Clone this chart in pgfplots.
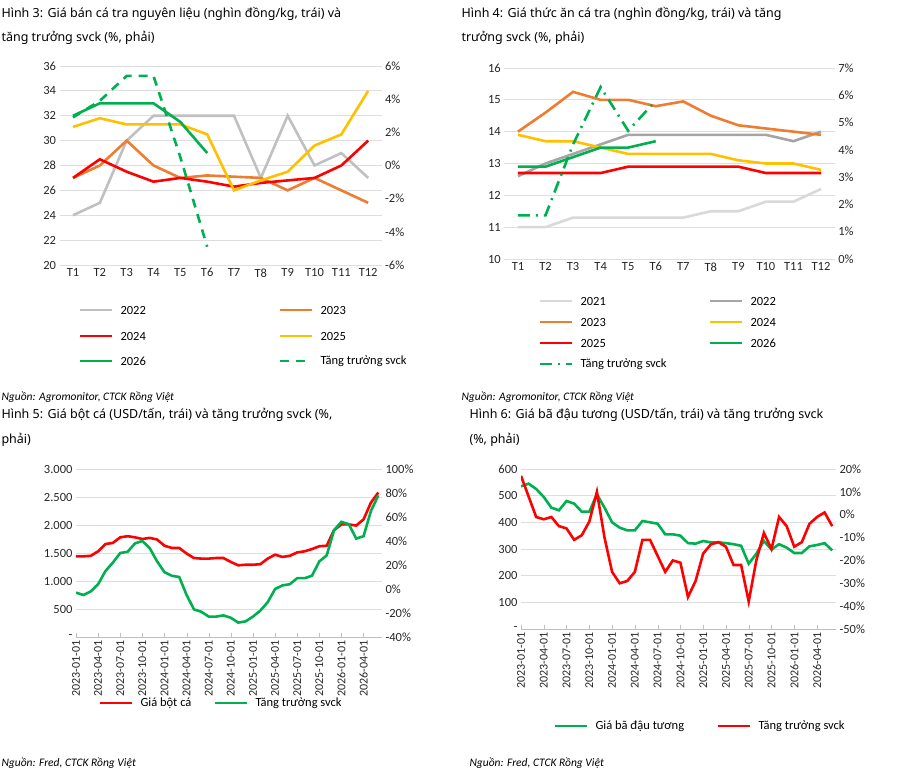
\documentclass[border=0pt]{standalone}
\usepackage{pgfplots}
\pgfplotsset{compat=1.18}
\usepackage{fontspec}
\setmainfont{Carlito}
\newfontfamily\ttlfont{Noto Sans}
\definecolor{cg}{HTML}{C0C0C0}
\definecolor{cg1}{HTML}{D9D9D9}
\definecolor{cg2}{HTML}{A5A5A5}
\definecolor{co}{HTML}{ED7D31}
\definecolor{cr}{HTML}{FF0000}
\definecolor{cy}{HTML}{FFC000}
\definecolor{cgr}{HTML}{00B050}
\pgfplotsset{
  base/.style={scale only axis, anchor=south west,
    /pgf/number format/assume math mode=true,
    ticklabel style={font=\fontsize{12.5}{13}\selectfont, text=black!85},
    major tick length=0pt, axis line style={draw=none},
    every axis plot/.append style={line width=2.6pt, no markers}},
  lefta/.style={base, ymajorgrids, grid style={draw=black!13, line width=0.8pt}},
  righta/.style={base, axis y line*=right, axis x line=none, ymajorgrids=false},
  monthx/.style={xmin=0, xmax=41.5, xtick={0,3,...,39},
    xticklabels={2023-01-01,2023-04-01,2023-07-01,2023-10-01,2024-01-01,2024-04-01,2024-07-01,2024-10-01,2025-01-01,2025-04-01,2025-07-01,2025-10-01,2026-01-01,2026-04-01},
    xticklabel style={rotate=90, anchor=east, font=\fontsize{12}{12}\selectfont},
    axis x line*=bottom, x axis line style={draw=black!25, line width=0.8pt},
    xtick style={draw=black!25}, major tick length=4pt}
}
\newcommand{\leg}[4]{\draw[#1,line width=2.6pt] (#2pt,#3pt) -- ++(32pt,0); \node[anchor=west,font=\fontsize{12.5}{13}\selectfont] at (#2pt+37pt,#3pt) {#4};}
\begin{document}
\begin{tikzpicture}
\path[use as bounding box] (0,0) rectangle (900pt,773pt);
\tikzset{ttl/.style={anchor=west, font=\ttlfont\bfseries\fontsize{12.5}{14}\selectfont},
 src/.style={anchor=west, font=\itshape\fontsize{11.5}{12}\selectfont}}
% ---------- Panel 1
\node[ttl] at (-2pt,759pt) {Hình 3: Giá bán cá tra nguyên liệu (nghìn đồng/kg, trái) và};
\node[ttl] at (-2pt,735pt) {tăng trưởng svck (\%, phải)};
\begin{axis}[lefta, at={(59.6pt,508pt)}, width=322pt, height=199pt,
  xmin=0.5, xmax=12.5, ymin=20, ymax=36, ytick={20,22,...,36},
  xtick={1,...,12}, xticklabels={T1,T2,T3,T4,T5,T6,T7,T8,T9,T10,T11,T12}]
\addplot[cg] coordinates {(1,24)(2,25)(3,30)(4,32)(5,32)(6,32)(7,32)(8,27)(9,32)(10,28)(11,29)(12,27)};
\addplot[co] coordinates {(1,27)(2,28)(3,30)(4,28)(5,27)(6,27.2)(7,27.1)(8,27)(9,26)(10,27)(11,26)(12,25)};
\addplot[cr] coordinates {(1,27)(2,28.5)(3,27.5)(4,26.7)(5,27)(6,26.7)(7,26.3)(8,26.6)(9,26.8)(10,27)(11,28)(12,30)};
\addplot[cy] coordinates {(1,31.1)(2,31.8)(3,31.3)(4,31.3)(5,31.3)(6,30.5)(7,26)(8,26.8)(9,27.5)(10,29.6)(11,30.5)(12,34)};
\addplot[cgr] coordinates {(1,32)(2,33)(3,33)(4,33)(5,31.5)(6,29)};
\end{axis}
\begin{axis}[righta, at={(59.6pt,508pt)}, width=322pt, height=199pt,
  xmin=0.5, xmax=12.5, ymin=-6, ymax=6, ytick={-6,-4,...,6},
  yticklabels={-6\%,-4\%,-2\%,0\%,2\%,4\%,6\%}]
\addplot[cgr, dash pattern=on 9pt off 7pt] coordinates {(1,2.9)(2,3.9)(3,5.4)(4,5.4)(5,0.5)(6,-4.9)};
\end{axis}
\leg{cg}{80}{463}{2022}\leg{co}{280}{463}{2023}
\leg{cr}{80}{437}{2024}\leg{cy}{280}{437}{2025}
\leg{cgr}{80}{412}{2026}
\draw[cgr,line width=2.6pt,dash pattern=on 9pt off 7pt] (280pt,412pt) -- ++(32pt,0);
\node[anchor=west,font=\fontsize{12.5}{13}\selectfont] at (317pt,412pt) {Tăng trưởng svck};
\node[src] at (-2pt,376pt) {Nguồn: Agromonitor, CTCK Rồng Việt};
% ---------- Panel 2
\node[ttl] at (458pt,759pt) {Hình 4: Giá thức ăn cá tra (nghìn đồng/kg, trái) và tăng};
\node[ttl] at (458pt,735pt) {trưởng svck (\%, phải)};
\begin{axis}[lefta, at={(504.2pt,514pt)}, width=330.6pt, height=191pt,
  xmin=0.5, xmax=12.5, ymin=10, ymax=16, ytick={10,...,16},
  xtick={1,...,12}, xticklabels={T1,T2,T3,T4,T5,T6,T7,T8,T9,T10,T11,T12}]
\addplot[cg1] coordinates {(1,11)(2,11)(3,11.3)(4,11.3)(5,11.3)(6,11.3)(7,11.3)(8,11.5)(9,11.5)(10,11.8)(11,11.8)(12,12.2)};
\addplot[cg2] coordinates {(1,12.6)(2,13)(3,13.3)(4,13.6)(5,13.9)(6,13.9)(7,13.9)(8,13.9)(9,13.9)(10,13.9)(11,13.7)(12,14)};
\addplot[co] coordinates {(1,14)(2,14.6)(3,15.25)(4,15)(5,15)(6,14.8)(7,14.95)(8,14.5)(9,14.2)(10,14.1)(11,14)(12,13.9)};
\addplot[cy] coordinates {(1,13.9)(2,13.7)(3,13.7)(4,13.5)(5,13.3)(6,13.3)(7,13.3)(8,13.3)(9,13.1)(10,13)(11,13)(12,12.8)};
\addplot[cr] coordinates {(1,12.7)(2,12.7)(3,12.7)(4,12.7)(5,12.9)(6,12.9)(7,12.9)(8,12.9)(9,12.9)(10,12.7)(11,12.7)(12,12.7)};
\addplot[cgr] coordinates {(1,12.9)(2,12.9)(3,13.2)(4,13.5)(5,13.5)(6,13.7)};
\end{axis}
\begin{axis}[righta, at={(504.2pt,514pt)}, width=330.6pt, height=191pt,
  xmin=0.5, xmax=12.5, ymin=0, ymax=7, ytick={0,...,7},
  yticklabels={0\%,1\%,2\%,3\%,4\%,5\%,6\%,7\%}]
\addplot[cgr, dash pattern=on 12pt off 6pt on 2pt off 6pt] coordinates {(1,1.6)(2,1.6)(3,4.2)(4,6.3)(5,4.7)(6,5.8)};
\end{axis}
\leg{cg1}{540}{472}{2021}\leg{cg2}{710}{472}{2022}
\leg{co}{540}{451}{2023}\leg{cy}{710}{451}{2024}
\leg{cr}{540}{430}{2025}\leg{cgr}{710}{430}{2026}
\draw[cgr,line width=2.6pt,dash pattern=on 12pt off 6pt on 2pt off 6pt] (540pt,409pt) -- ++(32pt,0);
\node[anchor=west,font=\fontsize{12.5}{13}\selectfont] at (577pt,409pt) {Tăng trưởng svck};
\node[src] at (458pt,376pt) {Nguồn: Agromonitor, CTCK Rồng Việt};
% ---------- Panel 3
\node[ttl] at (-2pt,358pt) {Hình 5: Giá bột cá (USD/tấn, trái) và tăng trưởng svck (\%,};
\node[ttl] at (-2pt,333pt) {phải)};
\begin{axis}[lefta, monthx, at={(76pt,136pt)}, width=306pt, height=168pt,
  ymin=0, ymax=3000, ytick={0,500,...,3000},
  yticklabels={-,500,1.000,1.500,2.000,2.500,3.000}, ytick style={draw=none}]
\addplot[cr] coordinates {(0,1440)(1,1440)(2,1450)(3,1530)(4,1660)(5,1680)(6,1780)(7,1800)(8,1780)(9,1750)(10,1770)(11,1740)(12,1630)(13,1590)(14,1590)(15,1490)(16,1410)(17,1400)(18,1400)(19,1410)(20,1410)(21,1340)(22,1280)(23,1290)(24,1290)(25,1300)(26,1400)(27,1470)(28,1430)(29,1450)(30,1510)(31,1530)(32,1570)(33,1620)(34,1630)(35,1910)(36,2010)(37,2010)(38,1990)(39,2100)(40,2400)(41,2580)};
\end{axis}
\begin{axis}[righta, at={(76pt,136pt)}, width=306pt, height=168pt,
  xmin=0, xmax=41.5, ymin=-40, ymax=100, ytick={-40,-20,...,100},
  yticklabels={-40\%,-20\%,0\%,20\%,40\%,60\%,80\%,100\%}]
\addplot[cgr] coordinates {(0,-3)(1,-5)(2,-2)(3,4)(4,15)(5,22)(6,30)(7,31)(8,38)(9,40)(10,34)(11,23)(12,14)(13,11)(14,10)(15,-5)(16,-17)(17,-19)(18,-23)(19,-23)(20,-22)(21,-24)(22,-28)(23,-27)(24,-23)(25,-18)(26,-11)(27,0)(28,3)(29,4)(30,9)(31,9)(32,11)(33,23)(34,28)(35,49)(36,56)(37,54)(38,42)(39,44)(40,65)(41,78)};
\end{axis}
\leg{cr}{100}{70}{Giá bột cá}\leg{cgr}{215}{70}{Tăng trưởng svck}
\node[src] at (-2pt,10pt) {Nguồn: Fred, CTCK Rồng Việt};
% ---------- Panel 4
\node[ttl] at (466pt,358pt) {Hình 6: Giá bã đậu tương (USD/tấn, trái) và tăng trưởng svck};
\node[ttl] at (466pt,333pt) {(\%, phải)};
\begin{axis}[lefta, monthx, at={(521pt,144pt)}, width=315pt, height=160pt,
  ymin=0, ymax=600, ytick={0,100,...,600},
  yticklabels={-,100,200,300,400,500,600}, ytick style={draw=none}]
\addplot[cgr] coordinates {(0,535)(1,545)(2,525)(3,495)(4,455)(5,445)(6,480)(7,470)(8,440)(9,440)(10,505)(11,455)(12,400)(13,380)(14,370)(15,370)(16,405)(17,400)(18,395)(19,355)(20,355)(21,350)(22,322)(23,320)(24,330)(25,325)(26,325)(27,322)(28,318)(29,312)(30,245)(31,282)(32,330)(33,298)(34,318)(35,305)(36,285)(37,285)(38,310)(39,315)(40,322)(41,295)};
\end{axis}
\begin{axis}[righta, at={(521pt,144pt)}, width=315pt, height=160pt,
  xmin=0, xmax=41.5, ymin=-50, ymax=20, ytick={-50,-40,...,20},
  yticklabels={-50\%,-40\%,-30\%,-20\%,-10\%,0\%,10\%,20\%}]
\addplot[cr] coordinates {(0,17)(1,8)(2,-1)(3,-2)(4,-1)(5,-5)(6,-6)(7,-11)(8,-9)(9,-3)(10,10)(11,-10)(12,-25)(13,-30)(14,-29)(15,-25)(16,-11)(17,-11)(18,-18)(19,-25)(20,-20)(21,-21)(22,-36)(23,-29)(24,-17)(25,-13)(26,-12)(27,-14)(28,-22)(29,-22)(30,-38)(31,-20)(32,-8)(33,-15)(34,-1)(35,-5)(36,-14)(37,-12)(38,-4)(39,-1)(40,1)(41,-5)};
\end{axis}
\leg{cgr}{555}{47}{Giá bã đậu tương}\leg{cr}{718}{47}{Tăng trưởng svck}
\node[src] at (466pt,10pt) {Nguồn: Fred, CTCK Rồng Việt};
\end{tikzpicture}
\end{document}
